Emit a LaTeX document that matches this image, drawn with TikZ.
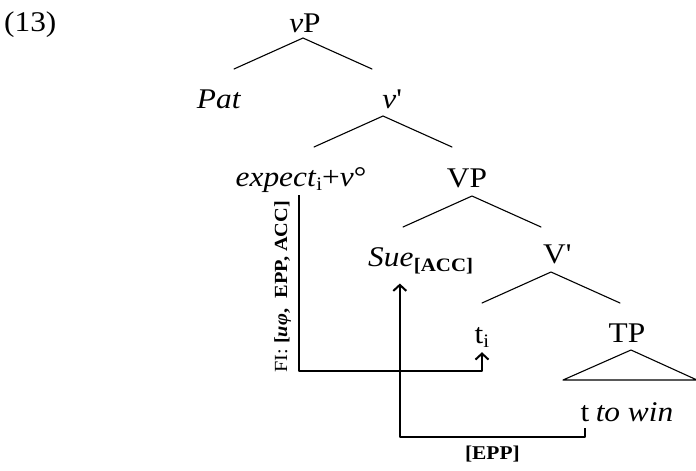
\documentclass[tikz,border=0pt]{standalone}
\usepackage{fontspec}
\setmainfont[FakeStretch=1.1]{Liberation Serif}
\usetikzlibrary{arrows.meta}
\newcommand{\lo}[2][-4pt]{\raisebox{#1}{\fontsize{19}{22}\selectfont #2}}

\begin{document}
\begin{tikzpicture}[x=1pt,y=-1pt,line cap=round,line join=round,
	font=\fontsize{28.5}{33}\selectfont,>={Straight Barb[length=6pt,width=13pt]},
	lbl/.style={inner sep=0pt,anchor=base},
	branch/.style={line width=1.1pt},
	move/.style={line width=2pt,line cap=butt}]
	\useasboundingbox (0,0) rectangle (696,471);
	\node[lbl,anchor=base west] (ex) at (4,31) {(13)};
	\node[lbl] (vP) at (305,32) {\textit{v}P};
	\node[lbl] (Pat) at (219,108) {\textit{Pat}};
	\node[lbl] (vbar) at (392,108) {\textit{v}\textquotesingle};
	\node[lbl] (expect) at (301,186) {\textit{expect}\lo{i}+\textit{v}°};
	\node[lbl] (VP) at (467,187) {VP};
	\node[lbl,anchor=base west] (Sue) at (368,266) {\textit{Sue}};
	\node[lbl,anchor=base west] (acc) at (Sue.base east) {\lo[-5pt]{\textbf{[ACC]}}};
	\node[lbl] (Vbar) at (557,263) {V\textquotesingle};
	\node[lbl] (ti) at (482,343) {t\lo{i}};
	\node[lbl] (TP) at (627,342) {TP};
	\node[lbl] (t) at (585,421) {t};
	\node[lbl,anchor=base west] (towin) at ([xshift=6pt]t.base east) {\textit{to win}};
	\foreach \p/\dx/\dy in {vP/-2/6,vbar/-9/8,VP/5/9,Vbar/-6/9}
		\draw[branch] ([xshift=\dx pt,yshift=-\dy pt]\p.base) -- ++(-69,31)
		([xshift=\dx pt,yshift=-\dy pt]\p.base) -- ++(69,31);
	\draw[branch] ([xshift=4pt,yshift=-8pt]TP.base) -- ++(-68,30) -- ++(134,0) -- cycle;
	\draw[move,->] ([xshift=-2pt,yshift=-3pt]expect.south) -- ++(0,176)
		node[pos=.52,rotate=90,anchor=south,inner sep=0pt,outer sep=8pt,font=\fontsize{18.5}{22}\selectfont] (fi)
		{FI: \textbf{[\textit{uφ},~ EPP, ACC]}} -| ([yshift=-5pt]ti.south);
	\draw[move,->] ([yshift=-7pt]t.south) -- ++(0,9)
		-| node[pos=.25,below=7pt,inner sep=0pt,font=\fontsize{19.5}{22}\selectfont] (epp) {\textbf{[EPP]}}
		([xshift=9pt,yshift=-17pt]Sue.south);
	%\draw[help lines] (0,0) grid[step=50] (696,471);
\end{tikzpicture}
\end{document}
